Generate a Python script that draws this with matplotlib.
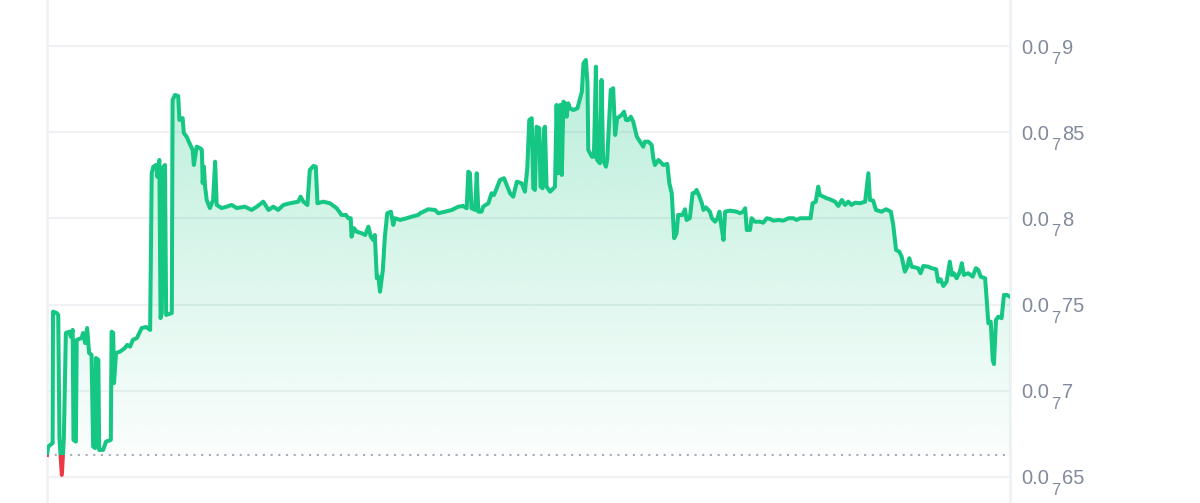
import numpy as np
import matplotlib.pyplot as plt
from matplotlib.patches import Rectangle, Polygon

# price in units of 1e-8 (label "0.0_7 85" = 0.000000085)
hours = [0.00, 0.03, 0.14, 0.15, 0.24, 0.28, 0.31, 0.37, 0.42, 0.47,
         0.56, 0.59, 0.64, 0.66, 0.72, 0.74, 0.86, 0.90, 0.95, 1.00,
         1.05, 1.11, 1.15, 1.20, 1.22, 1.28, 1.30, 1.40, 1.47, 1.59,
         1.61, 1.65, 1.67, 1.72, 1.82, 1.94, 2.00, 2.07, 2.14, 2.24,
         2.36, 2.47, 2.57, 2.61, 2.65, 2.72, 2.75, 2.80, 2.83, 2.86,
         2.90, 2.94, 2.97, 3.11, 3.13, 3.19, 3.27, 3.30, 3.38, 3.41,
         3.48, 3.55, 3.63, 3.66, 3.73, 3.81, 3.86, 3.88, 3.91, 3.94,
         3.98, 4.06, 4.14, 4.19, 4.23, 4.35, 4.48, 4.60, 4.73, 4.93,
         5.10, 5.23, 5.39, 5.52, 5.64, 5.76, 5.89, 6.06, 6.26, 6.32,
         6.39, 6.49, 6.55, 6.64, 6.70, 6.74, 6.89, 7.05, 7.22, 7.34,
         7.45, 7.51, 7.57, 7.59, 7.65, 7.72, 7.84, 7.93, 8.01, 8.07,
         8.13, 8.17, 8.22, 8.26, 8.30, 8.37, 8.42, 8.48, 8.57, 8.63,
         8.67, 8.80, 8.96, 9.09, 9.25, 9.30, 9.50, 9.67, 9.75, 9.92,
         10.09, 10.25, 10.37, 10.46, 10.50, 10.54, 10.58, 10.67, 10.71, 10.75,
         10.83, 10.87, 11.00, 11.08, 11.14, 11.29, 11.39, 11.44, 11.54, 11.62,
         11.71, 11.83, 11.91, 11.97, 12.02, 12.08, 12.12, 12.16, 12.20, 12.27,
         12.30, 12.35, 12.39, 12.41, 12.45, 12.54, 12.66, 12.70, 12.74, 12.79,
         12.83, 12.87, 12.91, 12.95, 12.99, 13.03, 13.12, 13.22, 13.33, 13.37,
         13.43, 13.47, 13.49, 13.58, 13.63, 13.68, 13.71, 13.78, 13.82, 13.86,
         13.93, 13.96, 14.05, 14.11, 14.16, 14.21, 14.32, 14.38, 14.43, 14.49,
         14.55, 14.61, 14.70, 14.78, 14.86, 14.90, 14.99, 15.07, 15.11, 15.15,
         15.24, 15.36, 15.46, 15.51, 15.57, 15.63, 15.69, 15.73, 15.84, 15.90,
         15.94, 16.02, 16.09, 16.15, 16.19, 16.26, 16.32, 16.36, 16.42, 16.52,
         16.57, 16.65, 16.71, 16.76, 16.79, 16.86, 16.90, 17.02, 17.19, 17.27,
         17.35, 17.40, 17.44, 17.52, 17.56, 17.64, 17.77, 17.85, 17.94, 18.02,
         18.10, 18.23, 18.35, 18.48, 18.60, 18.68, 18.77, 18.93, 19.03, 19.08,
         19.16, 19.22, 19.26, 19.35, 19.43, 19.51, 19.64, 19.72, 19.81, 19.89,
         19.97, 20.05, 20.14, 20.26, 20.39, 20.47, 20.51, 20.59, 20.66, 20.80,
         20.91, 21.03, 21.09, 21.16, 21.24, 21.30, 21.38, 21.44, 21.49, 21.55,
         21.63, 21.71, 21.77, 21.84, 21.96, 22.05, 22.16, 22.21, 22.27, 22.34,
         22.42, 22.50, 22.55, 22.60, 22.67, 22.75, 22.80, 22.85, 22.96, 23.07,
         23.15, 23.21, 23.27, 23.38, 23.42, 23.46, 23.52, 23.57, 23.60, 23.65,
         23.71, 23.79, 23.85, 23.92, 24.00]

price = [6.628, 6.676, 6.697, 7.459, 7.451, 7.440, 6.726, 6.512, 6.726, 7.335,
         7.343, 7.314, 7.353, 6.715, 6.705, 7.295, 7.306, 7.335, 7.277, 7.364,
         7.219, 7.208, 6.676, 6.668, 7.190, 7.179, 6.657, 6.657, 6.705, 6.715,
         7.343, 7.335, 7.045, 7.219, 7.227, 7.248, 7.266, 7.256, 7.295, 7.306,
         7.364, 7.370, 7.353, 8.263, 8.300, 8.310, 8.242, 8.339, 7.422, 7.451,
         8.300, 8.310, 7.440, 7.451, 8.687, 8.716, 8.710, 8.571, 8.582, 8.495,
         8.474, 8.437, 8.397, 8.310, 8.416, 8.408, 8.397, 8.205, 8.300, 8.184,
         8.107, 8.060, 8.107, 8.329, 8.078, 8.060, 8.068, 8.078, 8.060, 8.068,
         8.049, 8.068, 8.097, 8.049, 8.068, 8.049, 8.078, 8.088, 8.097, 8.126,
         8.097, 8.078, 8.281, 8.304, 8.300, 8.088, 8.097, 8.088, 8.059, 8.020,
         8.020, 8.001, 8.001, 7.894, 7.943, 7.923, 7.914, 7.904, 7.952, 7.894,
         7.875, 7.904, 7.653, 7.662, 7.575, 7.701, 7.894, 8.030, 8.039, 7.962,
         8.001, 7.991, 8.001, 8.010, 8.020, 8.030, 8.053, 8.049, 8.030, 8.039,
         8.049, 8.068, 8.072, 8.059, 8.271, 8.262, 8.059, 8.049, 8.262, 8.039,
         8.039, 8.068, 8.088, 8.146, 8.136, 8.223, 8.233, 8.204, 8.146, 8.126,
         8.213, 8.204, 8.155, 8.291, 8.571, 8.581, 8.175, 8.165, 8.532, 8.523,
         8.184, 8.175, 8.523, 8.532, 8.184, 8.155, 8.184, 8.658, 8.262, 8.658,
         8.252, 8.677, 8.668, 8.590, 8.668, 8.639, 8.629, 8.639, 8.735, 8.900,
         8.919, 8.784, 8.397, 8.358, 8.358, 8.880, 8.339, 8.320, 8.803, 8.339,
         8.300, 8.339, 8.745, 8.755, 8.484, 8.581, 8.600, 8.619, 8.571, 8.571,
         8.590, 8.561, 8.474, 8.445, 8.416, 8.445, 8.445, 8.426, 8.349, 8.310,
         8.339, 8.310, 8.316, 8.204, 8.146, 7.885, 7.914, 8.020, 8.020, 8.053,
         7.991, 8.001, 8.146, 8.149, 8.165, 8.126, 8.088, 8.049, 8.064, 8.039,
         8.001, 7.981, 8.001, 8.039, 7.981, 7.875, 8.039, 8.045, 8.039, 8.030,
         8.039, 8.059, 7.933, 7.933, 8.001, 7.981, 7.981, 7.975, 8.001, 7.997,
         7.987, 7.991, 7.987, 8.001, 8.001, 7.991, 8.001, 8.001, 8.001, 8.088,
         8.097, 8.184, 8.136, 8.126, 8.117, 8.111, 8.097, 8.072, 8.107, 8.078,
         8.097, 8.078, 8.091, 8.088, 8.097, 8.262, 8.107, 8.103, 8.049, 8.039,
         8.053, 8.039, 7.962, 7.817, 7.807, 7.778, 7.691, 7.720, 7.769, 7.720,
         7.716, 7.711, 7.682, 7.724, 7.720, 7.711, 7.705, 7.633, 7.647, 7.608,
         7.633, 7.749, 7.672, 7.682, 7.653, 7.691, 7.740, 7.672, 7.682, 7.662,
         7.711, 7.701, 7.662, 7.653, 7.527, 7.392, 7.401, 7.179, 7.155, 7.411,
         7.430, 7.421, 7.556, 7.556, 7.546]

tick_vals = [9.0, 8.5, 8.0, 7.5, 7.0, 6.5]
tick_digits = ['9', '85', '8', '75', '7', '65']
zero_count = '7'

green = '#16c784'
red = '#ea3943'
label_color = '#808a9d'
t = np.array(hours)
p = np.array(price)
base = p[0]

fig = plt.figure(figsize=(12, 5.03), dpi=100)
ax = fig.add_axes([47 / 1200, 0, 963 / 1200, 1])
ax.set_xticks([])
ax.set_yticks([])
for s in ax.spines.values():
    s.set_visible(False)

# grid
for v in tick_vals:
    ax.axhline(v, color='#eff1f4', lw=1.5, zorder=0)
ax.axvline(0, color='#eff1f4', lw=2, zorder=0, clip_on=False)
ax.axvline(24, color='#eff1f4', lw=2, zorder=0, clip_on=False)

# gradient fill between line and the opening price
top = p.max()
grad = np.zeros((256, 1, 4))
grad[:, 0, 0] = 0x16 / 255
grad[:, 0, 1] = 0xc7 / 255
grad[:, 0, 2] = 0x84 / 255
grad[:, 0, 3] = np.linspace(0.02, 0.30, 256)
im = ax.imshow(grad, extent=[0, 24, base, top], origin='lower',
               aspect='auto', zorder=1, interpolation='bilinear')
verts = [(t[0], base)] + list(zip(t, np.maximum(p, base))) + [(t[-1], base)]
clip_poly = Polygon(verts, closed=True, facecolor='none', edgecolor='none',
                    transform=ax.transData)
ax.add_patch(clip_poly)
im.set_clip_path(clip_poly)
ax.set_xlim(0, 24)
ax.set_ylim(6.349, 9.267)

# opening price line
ax.axhline(base, color='#a6acb9', lw=1.5, ls=(0, (1, 2.7)), zorder=2)

# price line, green above open, red below
up, = ax.plot(t, p, color=green, lw=2.9, zorder=3, solid_joinstyle='round')
up.set_clip_path(Rectangle((0, base), 24, 10, transform=ax.transData))
down, = ax.plot(t, p, color=red, lw=2.9, zorder=3, solid_joinstyle='round')
down.set_clip_path(Rectangle((0, 0), 24, base, transform=ax.transData))

# price labels like 0.0₇85 (seven zeros after "0.0")
px = 0.72  # points per pixel
for v, d in zip(tick_vals, tick_digits):
    kw = dict(xy=(1, v), xycoords=('axes fraction', 'data'),
              textcoords='offset points', ha='left', va='baseline',
              color=label_color, family='Liberation Sans',
              annotation_clip=False)
    ax.annotate('0.0', xytext=(11 * px, -7.5 * px), fontsize=14.5, **kw)
    ax.annotate(zero_count, xytext=(41 * px, -18 * px), fontsize=12, **kw)
    ax.annotate(d, xytext=(52 * px, -7.5 * px), fontsize=14.5, **kw)

fig.savefig('out.png', dpi=100)
